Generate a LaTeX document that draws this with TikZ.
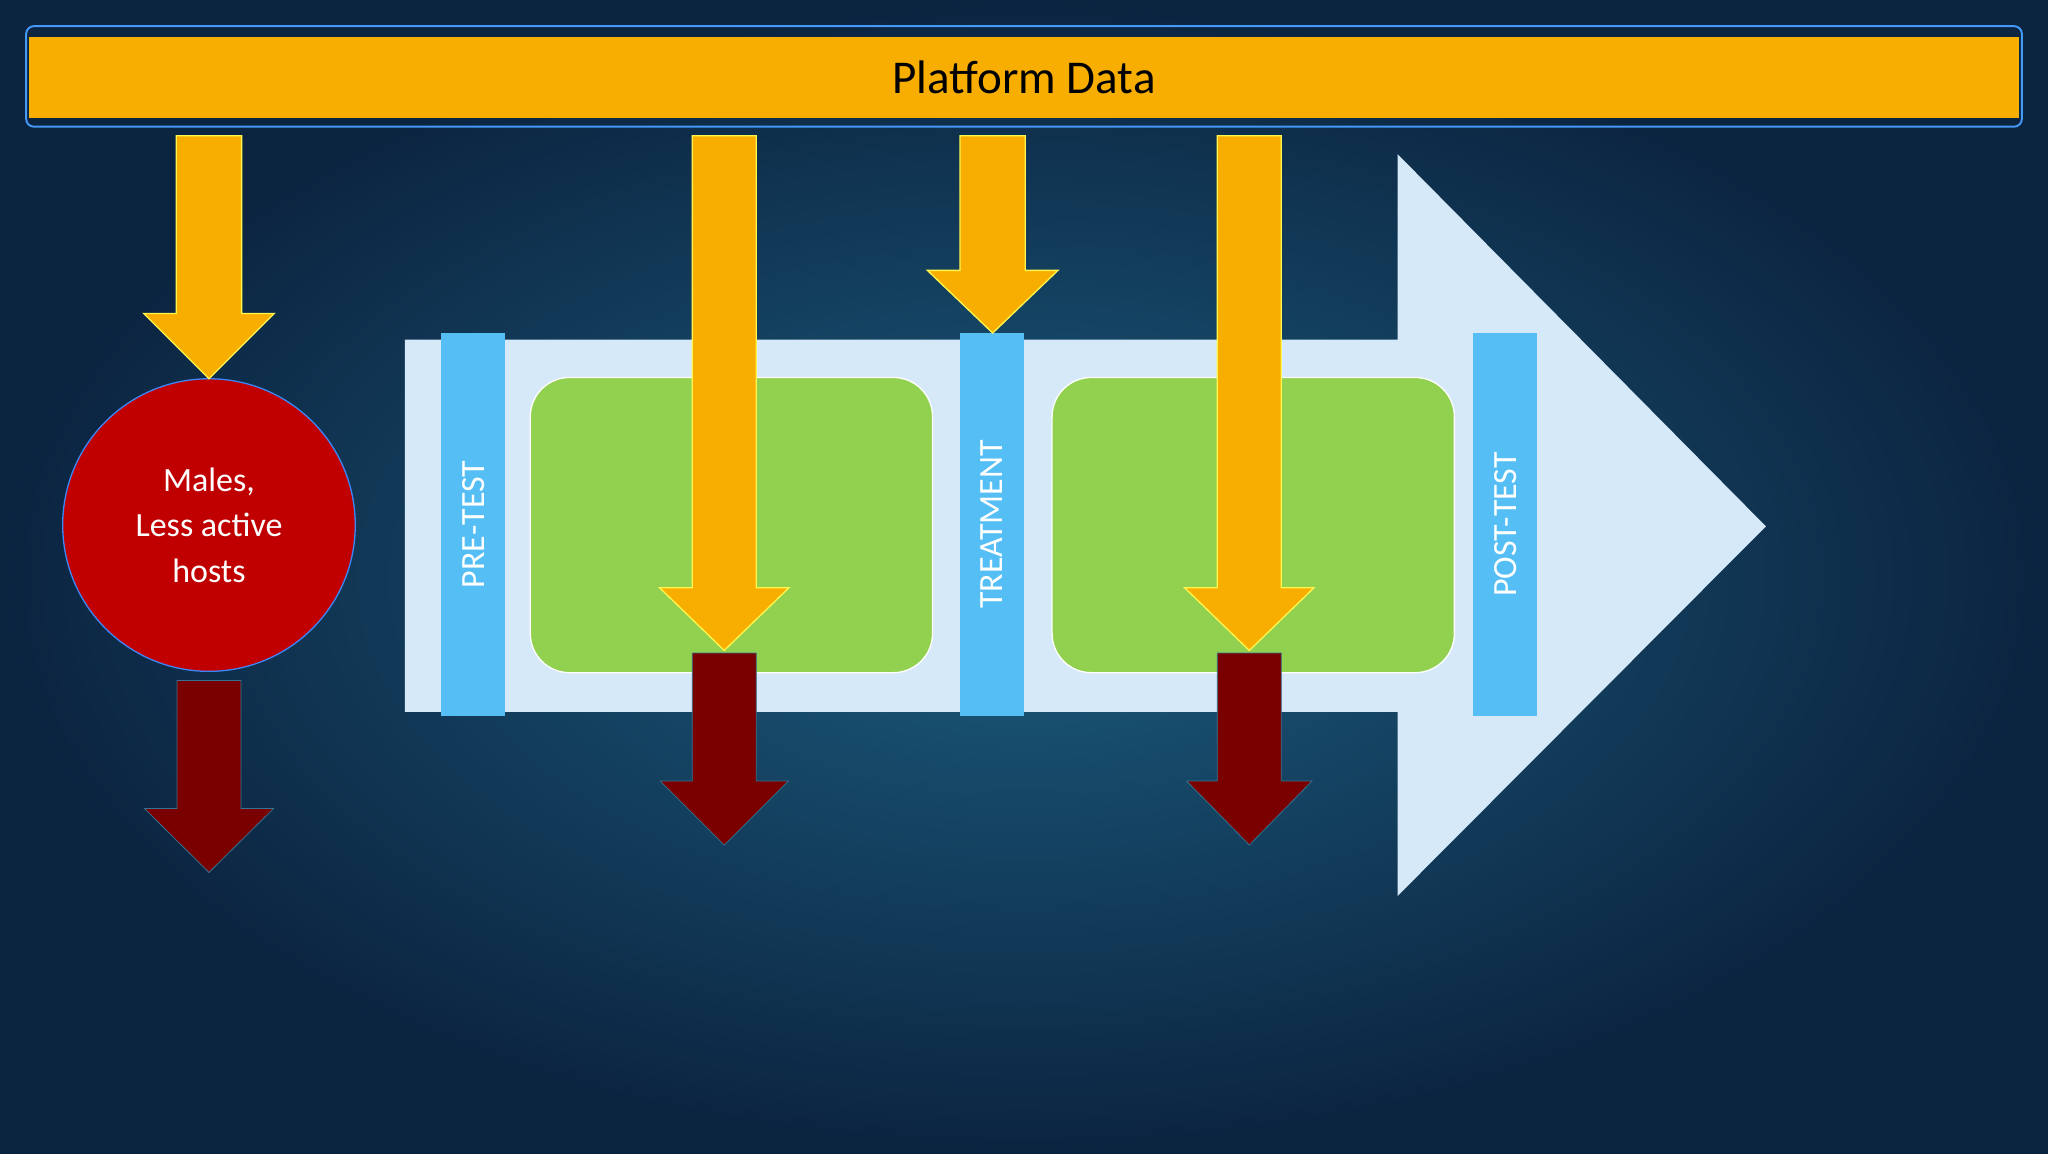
\documentclass[tikz,border=0pt]{standalone}
\usepackage{fontspec}
\setmainfont{Carlito}
\definecolor{bgA}{HTML}{0B2440}
\definecolor{bgB}{HTML}{1C5C7E}
\definecolor{orng}{HTML}{F7AE00}
\definecolor{lblue}{HTML}{D6E9F9}
\definecolor{bbar}{HTML}{55BFF5}
\definecolor{grn}{HTML}{92D050}
\definecolor{dred}{HTML}{7A0000}
\definecolor{rcirc}{HTML}{C00000}
\newcommand\myarr[6]{% x, top, headY, tip, halfshaft, halfhead
  (#1-#5,#2) -- (#1+#5,#2) -- (#1+#5,#3) -- (#1+#6,#3) -- (#1,#4) -- (#1-#6,#3) -- (#1-#5,#3) -- cycle}
\begin{document}
\begin{tikzpicture}[x=1pt,y=-1pt,
  oarr/.style={fill=orng,draw=yellow!70!white,line width=1pt},
  rarr/.style={fill=dred,draw=bbar!60!black,line width=0.6pt},
  bar/.style={fill=bbar,minimum width=49pt,minimum height=293pt,inner sep=0pt,text=white,font=\fontsize{26}{28}\selectfont},
  box/.style={fill=grn,draw=white,line width=1pt,rounded corners=30pt,minimum width=308pt,minimum height=226pt,inner sep=0pt}]
\useasboundingbox (0,0) rectangle (1568,883);
\shade[inner color=bgB,outer color=bgA] (0,0) rectangle (1568,883);
% platform bar
\node[draw=bbar!80!blue,line width=1.5pt,rounded corners=6pt,minimum width=1528pt,minimum height=77pt,inner sep=0pt] (frame) at (784,58.5) {};
\node[fill=orng,minimum width=1524pt,minimum height=62pt,inner sep=0pt,font=\fontsize{36}{40}\selectfont] (plat) at (784,59) {Platform Data};
% big arrow
\fill[lblue] (310,260) -- (1070,260) -- (1070,118) -- (1352,403) -- (1070,686) -- (1070,545) -- (310,545) -- cycle;
\coordinate (tip) at (1352,403);
% bars
\node[bar] (pre) at (362.5,401.5) {\rotatebox{90}{PRE-TEST}};
\node[bar] (treat) at (759.5,401.5) {\rotatebox{90}{TREATMENT}};
\node[bar] (post) at (1152.5,401.5) {\rotatebox{90}{POST-TEST}};
% green boxes
\node[box] (g1) at (560,402) {};
\node[box] (g2) at (959.5,402) {};
% circle
\node[circle,fill=rcirc,draw=bbar!70!blue,line width=1pt,minimum size=224pt,inner sep=0pt,text=white,align=center,font=\fontsize{26}{35}\selectfont] (males) at (160,402) {Males,\\Less active\\hosts};
% red arrows
\draw[rarr] \myarr{160}{521}{619}{668}{24.5}{49.5};
\draw[rarr] \myarr{554.5}{500}{598}{647}{24.5}{49};
\draw[rarr] \myarr{956.5}{500}{598}{647}{24.5}{48};
% orange arrows
\draw[oarr] \myarr{160}{104}{240}{290}{25}{50};
\draw[oarr] \myarr{554.5}{104}{450}{498}{24.5}{49.5};
\draw[oarr] \myarr{760}{104}{207}{255}{25}{50};
\draw[oarr] \myarr{956.5}{104}{450}{498}{24.5}{49.5};
\end{tikzpicture}
\end{document}
